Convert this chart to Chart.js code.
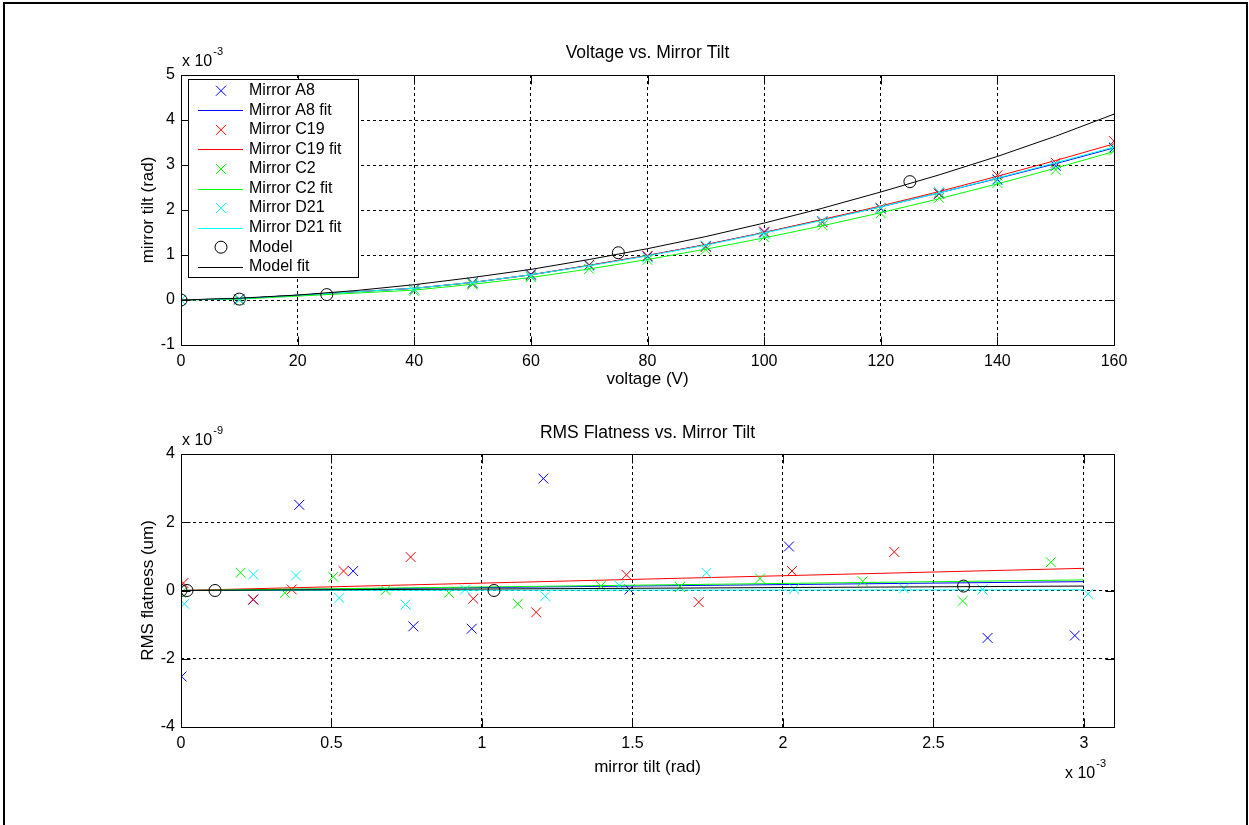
<!DOCTYPE html>
<html>
<head>
<meta charset="utf-8">
<script src="https://cdn.jsdelivr.net/npm/chart.js@4/dist/chart.umd.min.js"></script>
<style>
  html, body { margin:0; padding:0; background:#fff; width:1249px; height:825px; overflow:hidden; }
  #frame { position:absolute; left:3px; top:2px; width:1245px; height:900px; border:2px solid #000; box-sizing:border-box; }
  canvas { position:absolute; left:0; }
  #c1 { top:0; }
  #c2 { top:400px; }
</style>
</head>
<body>
<div id="frame"></div>
<canvas id="c1" width="1249" height="400"></canvas>
<canvas id="c2" width="1249" height="425"></canvas>
<script>
// ---------- Top plot: voltage vs mirror tilt (tilt in units of 1e-3 rad) ----------
const voltage = [0, 10, 40, 50, 60, 70, 80, 90, 100, 110, 120, 130, 140, 150, 160];
const tiltA8  = [0, 0.02, 0.24, 0.39, 0.57, 0.78, 0.97, 1.20, 1.50, 1.75, 2.03, 2.36, 2.68, 2.98, 3.38];
const tiltC19 = [0, 0.01, 0.24, 0.37, 0.55, 0.78, 0.98, 1.18, 1.52, 1.73, 2.05, 2.37, 2.77, 3.05, 3.53];
const tiltC2  = [0, 0.00, 0.20, 0.345, 0.51, 0.69, 0.89, 1.12, 1.40, 1.66, 1.93, 2.27, 2.60, 2.89, 3.32];
const tiltD21 = [0, 0.01, 0.24, 0.38, 0.53, 0.75, 0.94, 1.21, 1.46, 1.75, 2.04, 2.40, 2.66, 3.01, 3.40];
const fitA8   = [0, 0.03, 0.26, 0.39, 0.56, 0.77, 0.99, 1.23, 1.50, 1.78, 2.07, 2.38, 2.70, 3.03, 3.38];
const fitC19  = [0, 0.03, 0.26, 0.39, 0.56, 0.77, 0.99, 1.23, 1.50, 1.79, 2.09, 2.41, 2.75, 3.10, 3.47];
const fitC2   = [0, 0.02, 0.22, 0.35, 0.50, 0.69, 0.90, 1.13, 1.38, 1.65, 1.94, 2.25, 2.58, 2.93, 3.30];
const fitD21  = [0, 0.03, 0.26, 0.39, 0.56, 0.76, 0.98, 1.22, 1.49, 1.77, 2.07, 2.38, 2.71, 3.05, 3.40];
const modelVoltage = [0, 10, 25, 75, 125];
const modelTilt    = [0, 0.02, 0.12, 1.05, 2.63];
const modelFitVoltage = [0, 10, 20, 30, 40, 50, 60, 70, 80, 90, 100, 110, 120, 130, 140, 150, 160];
const modelFitTilt    = [0, 0.04, 0.11, 0.21, 0.34, 0.50, 0.68, 0.90, 1.14, 1.41, 1.71, 2.04, 2.40, 2.78, 3.19, 3.64, 4.13];

// ---------- Bottom plot: RMS flatness (1e-9 um) vs mirror tilt (1e-3 rad) ----------
const rmsTiltA8  = [0.002, 0.24, 0.393, 0.572, 0.772, 0.966, 1.204, 1.49, 2.02, 2.68, 2.97];
const rmsA8      = [-2.52, -0.27, 2.51, 0.57, -1.05, -1.12, 3.28, 0.03, 1.29, -1.39, -1.32];
const rmsTiltC19 = [0.008, 0.24, 0.368, 0.54, 0.763, 0.971, 1.18, 1.48, 1.72, 2.03, 2.37];
const rmsC19     = [0.22, -0.26, 0.03, 0.57, 0.98, -0.24, -0.64, 0.46, -0.34, 0.57, 1.13];
const rmsTiltC2  = [0.0, 0.198, 0.345, 0.506, 0.68, 0.89, 1.119, 1.395, 1.658, 1.924, 2.265, 2.597, 2.89];
const rmsC2      = [-0.07, 0.52, -0.07, 0.40, 0.01, -0.07, -0.39, 0.13, 0.10, 0.35, 0.27, -0.31, 0.83];
const rmsTiltD21 = [0.011, 0.24, 0.382, 0.526, 0.746, 0.944, 1.21, 1.456, 1.746, 2.037, 2.402, 2.663, 3.014];
const rmsD21     = [-0.39, 0.47, 0.44, -0.22, -0.41, 0.03, -0.17, 0.15, 0.52, 0.05, 0.06, 0.03, -0.10];
const rmsTiltModel = [0, 0.02, 0.113, 1.04, 2.6];
const rmsModel     = [0, 0, 0, 0, 0.13];
const rmsFitTilt   = [0, 3.0];
const rmsFitA8     = [0, 0.26];
const rmsFitC19    = [0, 0.65];
const rmsFitC2     = [0, 0.31];
const rmsFitD21    = [0, 0.02];
const rmsFitModel  = [0, 0.13];

const seriesNames = ['Mirror A8', 'Mirror A8 fit', 'Mirror C19', 'Mirror C19 fit', 'Mirror C2', 'Mirror C2 fit',
                     'Mirror D21', 'Mirror D21 fit', 'Model', 'Model fit'];
const seriesColors = ['#0000ff', '#0000ff', '#ff0000', '#ff0000', '#00ff00', '#00ff00', '#00ffff', '#00ffff', '#000000', '#000000'];

const FONT = '"Liberation Sans", Arial, Helvetica, sans-serif';

function pts(xs, ys) { return xs.map((x, i) => ({ x: x, y: ys[i] })); }

function markerDs(idx, xs, ys, style) {
  return {
    label: seriesNames[idx], data: pts(xs, ys), showLine: false,
    pointStyle: style, pointRadius: style === 'circle' ? 6 : 7, pointHoverRadius: 7,
    borderColor: seriesColors[idx], backgroundColor: 'rgba(0,0,0,0)', pointBorderWidth: 1,
    order: 20 - idx, colorIdx: idx
  };
}
function lineDs(idx, xs, ys) {
  return {
    label: seriesNames[idx], data: pts(xs, ys), showLine: true, pointRadius: 0,
    borderColor: seriesColors[idx], borderWidth: 1, backgroundColor: seriesColors[idx],
    tension: 0, order: 20 - idx, colorIdx: idx
  };
}

function fmtTick(v) { return String(Number(v.toFixed(3))); }

// Plugin drawing MATLAB-style decorations: box, inner ticks, titles, exponents, legend
const matlabDecor = {
  id: 'matlabDecor',
  afterDraw(chart, args, opts) {
    const ctx = chart.ctx;
    const a = chart.chartArea;
    const xs = chart.scales.x, ys = chart.scales.y;
    ctx.save();
    ctx.strokeStyle = '#000';
    ctx.lineWidth = 1;
    const L = Math.round(a.left) + 0.5, R = Math.round(a.right) + 0.5;
    const T = Math.round(a.top) + 0.5, B = Math.round(a.bottom) + 0.5;
    ctx.strokeRect(L, T, R - L, B - T);
    const tl = 9;
    ctx.beginPath();
    xs.ticks.forEach(t => {
      const px = Math.round(xs.getPixelForValue(t.value)) + 0.5;
      ctx.moveTo(px, B); ctx.lineTo(px, B - tl);
      ctx.moveTo(px, T); ctx.lineTo(px, T + tl);
    });
    ys.ticks.forEach(t => {
      const py = Math.round(ys.getPixelForValue(t.value)) + 0.5;
      ctx.moveTo(L, py); ctx.lineTo(L + tl, py);
      ctx.moveTo(R, py); ctx.lineTo(R - tl, py);
    });
    ctx.stroke();

    ctx.fillStyle = '#000';
    ctx.textBaseline = 'middle';
    // title
    ctx.font = '17.5px ' + FONT;
    ctx.textAlign = 'center';
    const cx = (a.left + a.right) / 2;
    ctx.fillText(opts.title, cx, opts.titleY);
    // x label
    ctx.font = '17px ' + FONT;
    ctx.fillText(opts.xlabel, cx, opts.xlabelY);
    // y label
    ctx.save();
    ctx.translate(opts.ylabelX, (a.top + a.bottom) / 2);
    ctx.rotate(-Math.PI / 2);
    ctx.fillText(opts.ylabel, 0, 0);
    ctx.restore();
    // exponents
    (opts.exps || []).forEach(e => {
      ctx.textAlign = 'left';
      ctx.font = '16px ' + FONT;
      ctx.fillText('x 10', e.x, e.y);
      const w = ctx.measureText('x 10').width;
      ctx.font = '11px ' + FONT;
      ctx.fillText(e.p, e.x + w + 1, e.y - 10);
    });
    // legend
    if (opts.legend) {
      const lg = opts.legend;
      ctx.fillStyle = '#fff';
      ctx.fillRect(lg.x, lg.y, lg.w, lg.h);
      ctx.strokeStyle = '#000';
      ctx.lineWidth = 1;
      ctx.strokeRect(lg.x + 0.5, lg.y + 0.5, lg.w, lg.h);
      chart.data.datasets.forEach((ds, i) => {
        const y = lg.row0 + lg.rowH * i;
        const col = seriesColors[ds.colorIdx];
        if (ds.showLine) {
          ctx.fillStyle = col;
          ctx.fillRect(lg.lineX0, Math.round(y), lg.lineX1 - lg.lineX0, 1);
        } else {
          ctx.strokeStyle = col;
          ctx.lineWidth = 1;
          ctx.beginPath();
          if (ds.pointStyle === 'circle') {
            ctx.arc(lg.markX, y, 6, 0, Math.PI * 2);
          } else {
            const d = 5;
            ctx.moveTo(lg.markX - d, y - d); ctx.lineTo(lg.markX + d, y + d);
            ctx.moveTo(lg.markX - d, y + d); ctx.lineTo(lg.markX + d, y - d);
          }
          ctx.stroke();
        }
        ctx.fillStyle = '#000';
        ctx.font = '16px ' + FONT;
        ctx.textAlign = 'left';
        ctx.textBaseline = 'middle';
        ctx.fillText(ds.label, lg.textX, y);
      });
    }
    ctx.restore();
  }
};

function axisCommon(min, max, step, isX) {
  return {
    type: 'linear', min: min, max: max,
    ticks: {
      stepSize: step, includeBounds: false, color: '#000', padding: isX ? 7 : 6,
      font: { family: FONT, size: 16 }, maxRotation: 0, autoSkip: false,
      callback: fmtTick
    },
    grid: { color: '#000', lineWidth: 1, drawTicks: false },
    border: { display: false, dash: [3, 3] },
    afterFit: isX ? (s) => { s.height = 40; } : (s) => { s.width = 181; }
  };
}

Chart.defaults.font.family = FONT;

new Chart(document.getElementById('c1'), {
  type: 'scatter',
  data: {
    datasets: [
      markerDs(0, voltage, tiltA8, 'crossRot'),
      lineDs(1, voltage, fitA8),
      markerDs(2, voltage, tiltC19, 'crossRot'),
      lineDs(3, voltage, fitC19),
      markerDs(4, voltage, tiltC2, 'crossRot'),
      lineDs(5, voltage, fitC2),
      markerDs(6, voltage, tiltD21, 'crossRot'),
      lineDs(7, voltage, fitD21),
      markerDs(8, modelVoltage, modelTilt, 'circle'),
      lineDs(9, modelFitVoltage, modelFitTilt)
    ]
  },
  options: {
    responsive: false, animation: false, devicePixelRatio: 1,
    layout: { padding: { left: 0, right: 135, top: 75, bottom: 15 } },
    scales: { x: axisCommon(0, 160, 20, true), y: axisCommon(-1, 5, 1, false) },
    plugins: {
      legend: { display: false }, tooltip: { enabled: false },
      matlabDecor: {
        title: 'Voltage vs. Mirror Tilt', titleY: 53,
        xlabel: 'voltage (V)', xlabelY: 379,
        ylabel: 'mirror tilt (rad)', ylabelX: 148,
        exps: [{ x: 182, y: 62, p: '-3' }],
        legend: { x: 188, y: 79, w: 170, h: 198, row0: 90.7, rowH: 19.56, lineX0: 198, lineX1: 243, markX: 221, textX: 249 }
      }
    }
  },
  plugins: [matlabDecor]
});

new Chart(document.getElementById('c2'), {
  type: 'scatter',
  data: {
    datasets: [
      markerDs(0, rmsTiltA8, rmsA8, 'crossRot'),
      lineDs(1, rmsFitTilt, rmsFitA8),
      markerDs(2, rmsTiltC19, rmsC19, 'crossRot'),
      lineDs(3, rmsFitTilt, rmsFitC19),
      markerDs(4, rmsTiltC2, rmsC2, 'crossRot'),
      lineDs(5, rmsFitTilt, rmsFitC2),
      markerDs(6, rmsTiltD21, rmsD21, 'crossRot'),
      lineDs(7, rmsFitTilt, rmsFitD21),
      markerDs(8, rmsTiltModel, rmsModel, 'circle'),
      lineDs(9, rmsFitTilt, rmsFitModel)
    ]
  },
  options: {
    responsive: false, animation: false, devicePixelRatio: 1,
    layout: { padding: { left: 0, right: 135, top: 54, bottom: 58 } },
    scales: { x: axisCommon(0, 3.1, 0.5, true), y: axisCommon(-4, 4, 2, false) },
    plugins: {
      legend: { display: false }, tooltip: { enabled: false },
      matlabDecor: {
        title: 'RMS Flatness vs. Mirror Tilt', titleY: 33,
        xlabel: 'mirror tilt (rad)', xlabelY: 367,
        ylabel: 'RMS flatness (um)', ylabelX: 148,
        exps: [{ x: 182, y: 41, p: '-9' }, { x: 1065, y: 374, p: '-3' }]
      }
    }
  },
  plugins: [matlabDecor]
});
</script>
</body>
</html>
